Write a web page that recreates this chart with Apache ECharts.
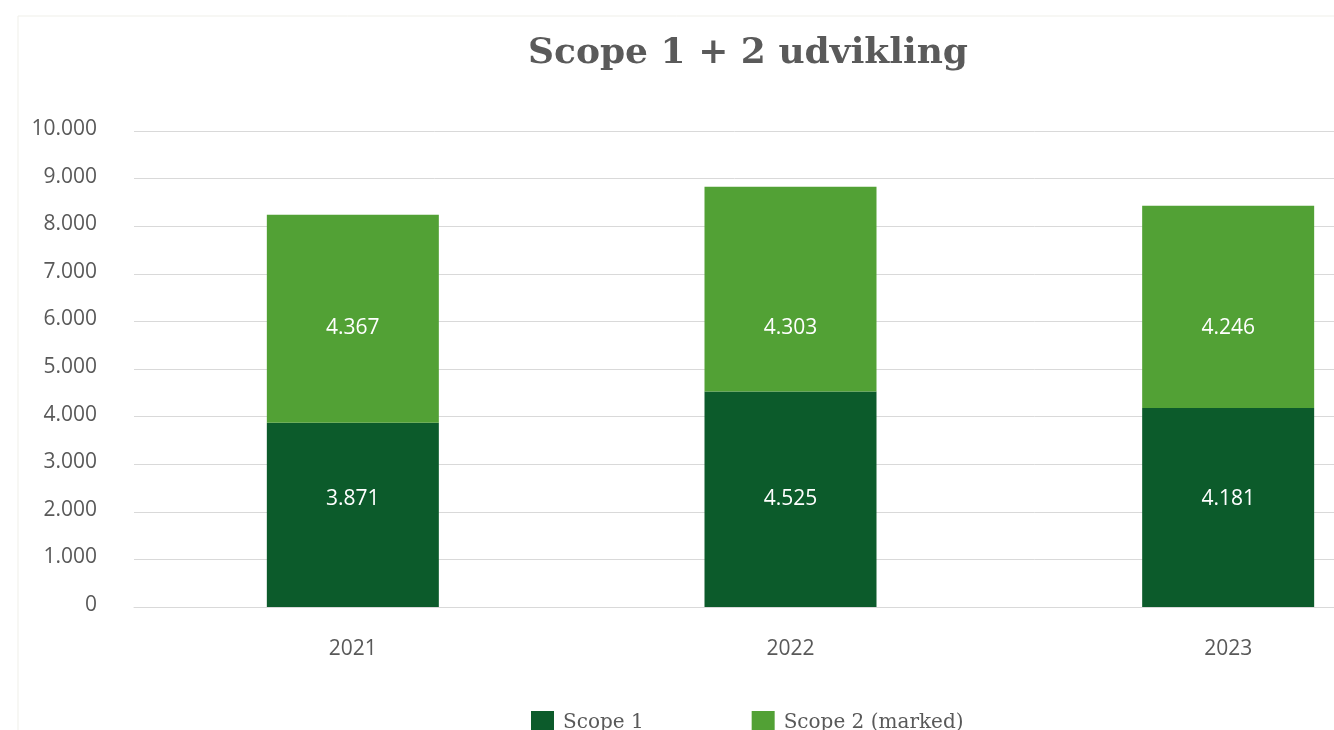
<!DOCTYPE html>
<html>
<head>
<meta charset="utf-8">
<script src="https://cdn.jsdelivr.net/npm/echarts@6/dist/echarts.min.js"></script>
<style>
  html, body { margin: 0; padding: 0; background: #fff; }
  #chart { width: 1334px; height: 730px; }
</style>
</head>
<body>
<div id="chart"></div>
<script>
const years = ['2021', '2022', '2023'];
const scope1 = [3871, 4525, 4181];
const scope2 = [4367, 4303, 4246];
const seriesNames = ['Scope 1', 'Scope 2 (marked)'];
// value level where the data labels sit in the original
const scope1LabelLevel = 2260;
const scope2LabelLevel = 5870;

const dark = '#0c5b2b';
const light = '#52a135';
const textGrey = '#595959';

const fmt = v => String(v).replace(/\B(?=(\d{3})+(?!\d))/g, '.');

const myChart = echarts.init(document.getElementById('chart'));

const labelBase = {
  show: true,
  position: 'inside',
  color: '#fff',
  fontFamily: 'Open Sans',
  fontSize: 21,
  formatter: p => fmt(p.value)
};

const option = {
  animation: false,
  backgroundColor: '#fff',
  graphic: [{
    type: 'rect',
    shape: { x: 18, y: 16, width: 1330, height: 730 },
    style: { fill: 'none', stroke: '#efefe9', lineWidth: 1 },
    silent: true
  }],
  title: {
    text: 'Scope 1 + 2 udvikling',
    left: 743,
    textAlign: 'center',
    top: 31,
    textStyle: {
      fontFamily: 'DejaVu Serif',
      fontSize: 36,
      fontWeight: 'bold',
      color: '#5a5a5a'
    }
  },
  legend: {
    data: seriesNames,
    left: 526,
    top: 706,
    itemWidth: 23,
    itemHeight: 23,
    itemGap: 108,
    icon: 'rect',
    textStyle: {
      fontFamily: 'DejaVu Serif',
      fontSize: 20,
      color: textGrey,
      padding: [0, 0, 0, 4]
    }
  },
  grid: {
    left: 134,
    width: 1313,
    top: 131,
    height: 476,
    outerBoundsMode: 'none',
    containLabel: false
  },
  xAxis: {
    type: 'category',
    data: years,
    axisTick: { show: false },
    axisLine: { lineStyle: { color: '#d9d9d9' } },
    axisLabel: {
      margin: 32,
      fontFamily: 'Open Sans',
      fontSize: 21,
      color: textGrey
    }
  },
  yAxis: {
    type: 'value',
    min: 0,
    max: 10000,
    interval: 1000,
    axisLine: { show: false },
    axisTick: { show: false },
    splitLine: { lineStyle: { color: '#d9d9d9' } },
    axisLabel: {
      margin: 37,
      fontFamily: 'Open Sans',
      fontSize: 21,
      color: textGrey,
      verticalAlign: 'bottom',
      lineHeight: 4,
      formatter: v => fmt(v)
    }
  },
  series: [
    {
      name: seriesNames[0],
      type: 'bar',
      stack: 'total',
      barWidth: 172,
      itemStyle: { color: dark },
      label: labelBase,
      data: scope1
    },
    {
      name: seriesNames[1],
      type: 'bar',
      stack: 'total',
      barWidth: 172,
      itemStyle: { color: light },
      label: labelBase,
      data: scope2
    }
  ]
};

myChart.setOption(option);

// move labels to the level used in the original chart
const py = v => myChart.convertToPixel({ yAxisIndex: 0 }, v);
const s1Data = scope1.map(v => ({
  value: v,
  label: { offset: [0, py(scope1LabelLevel) - py(v / 2)] }
}));
const s2Data = scope2.map((v, i) => ({
  value: v,
  label: { offset: [0, py(scope2LabelLevel) - py(scope1[i] + v / 2)] }
}));
myChart.setOption({ series: [{ data: s1Data }, { data: s2Data }] });
</script>
</body>
</html>
